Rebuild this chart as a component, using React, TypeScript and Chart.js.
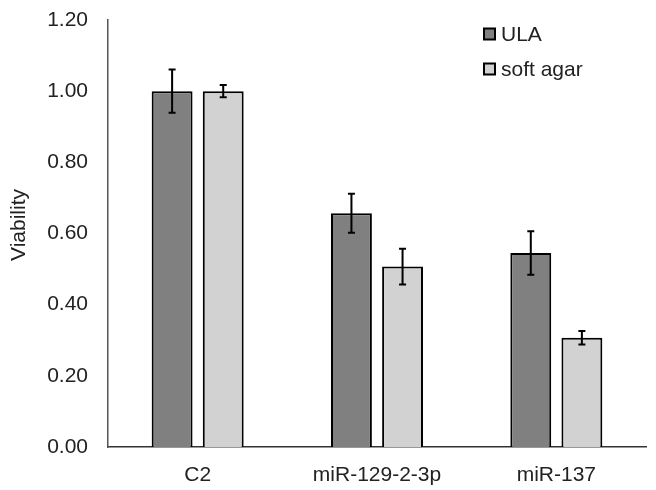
import React, { useEffect, useRef } from "react";
import { Chart, registerables } from "chart.js";

Chart.register(...registerables);

const categories = ["C2", "miR-129-2-3p", "miR-137"];
const seriesNames = ["ULA", "soft agar"];
const ulaValues = [1.0, 0.657, 0.545];
const ulaErrors = [0.061, 0.055, 0.061];
const agarValues = [1.0, 0.507, 0.307];
const agarErrors = [0.017, 0.05, 0.019];
const yTicks = [0, 0.2, 0.4, 0.6, 0.8, 1.0, 1.2];
const yTitle = "Viability";

const ulaColor = "#808080";
const agarColor = "#d2d2d2";
const textColor = "#222222";
const fontFamily = "'Liberation Sans', Arial, sans-serif";
const fontSize = 21;

const errorBarPlugin = {
  id: "errorBars",
  afterDatasetsDraw(chart: any) {
    const ctx = chart.ctx;
    const yScale = chart.scales.y;
    chart.data.datasets.forEach((ds: any, di: number) => {
      const meta = chart.getDatasetMeta(di);
      const errs: number[] = ds.errors || [];
      meta.data.forEach((el: any, i: number) => {
        const v = ds.data[i];
        const e = errs[i];
        if (e == null) return;
        const x = el.x;
        const yTop = yScale.getPixelForValue(v + e);
        const yBot = yScale.getPixelForValue(v - e);
        ctx.save();
        ctx.strokeStyle = "#000";
        ctx.lineWidth = 2;
        ctx.beginPath();
        ctx.moveTo(x, yTop);
        ctx.lineTo(x, yBot);
        ctx.moveTo(x - 3.5, yTop);
        ctx.lineTo(x + 3.5, yTop);
        ctx.moveTo(x - 3.5, yBot);
        ctx.lineTo(x + 3.5, yBot);
        ctx.stroke();
        ctx.restore();
      });
    });
  },
};

const legendPlugin = {
  id: "customLegend",
  afterDraw(chart: any) {
    const ctx = chart.ctx;
    const items = chart.data.datasets.map((ds: any) => ({
      label: ds.label,
      color: ds.backgroundColor,
    }));
    const x0 = 484;
    const y0 = 34;
    const rowGap = 35;
    ctx.save();
    ctx.font = `${fontSize}px ${fontFamily}`;
    ctx.textBaseline = "middle";
    items.forEach((it: any, i: number) => {
      const cy = y0 + i * rowGap;
      ctx.fillStyle = it.color;
      ctx.fillRect(x0, cy - 5.5, 11, 11);
      ctx.strokeStyle = "#000";
      ctx.lineWidth = 2;
      ctx.strokeRect(x0, cy - 5.5, 11, 11);
      ctx.fillStyle = textColor;
      ctx.fillText(it.label, x0 + 17, cy + 1);
    });
    ctx.restore();
  },
};

const yTitlePlugin = {
  id: "yTitle",
  afterDraw(chart: any) {
    const ctx = chart.ctx;
    ctx.save();
    ctx.translate(19, 225);
    ctx.rotate(-Math.PI / 2);
    ctx.font = `${fontSize}px ${fontFamily}`;
    ctx.fillStyle = textColor;
    ctx.textAlign = "center";
    ctx.textBaseline = "middle";
    ctx.fillText(yTitle, 0, 0);
    ctx.restore();
  },
};

export default function App() {
  const canvasRef = useRef<HTMLCanvasElement | null>(null);

  useEffect(() => {
    if (!canvasRef.current) return;
    const chart = new Chart(canvasRef.current, {
      type: "bar",
      data: {
        labels: categories,
        datasets: [
          {
            label: seriesNames[0],
            data: ulaValues,
            errors: ulaErrors,
            backgroundColor: ulaColor,
            borderColor: "#000",
            borderWidth: 2,
          } as any,
          {
            label: seriesNames[1],
            data: agarValues,
            errors: agarErrors,
            backgroundColor: agarColor,
            borderColor: "#000",
            borderWidth: 2,
          } as any,
        ],
      },
      options: {
        animation: false,
        responsive: false,
        maintainAspectRatio: false,
        layout: { padding: { top: 20, right: 10, left: 0, bottom: 0 } },
        datasets: {
          bar: { categoryPercentage: 0.57, barPercentage: 0.8 },
        },
        plugins: {
          legend: { display: false },
          tooltip: { enabled: false },
        },
        scales: {
          x: {
            grid: { display: false, drawTicks: false },
            border: { display: true, color: "#333", width: 1.5 },
            ticks: {
              color: textColor,
              font: { size: fontSize, family: fontFamily },
              padding: 16,
            },
            afterFit(scale: any) {
              scale.height = 43;
              scale.paddingLeft = 0;
              scale.paddingRight = 0;
            },
          },
          y: {
            min: 0,
            max: 1.2,
            afterBuildTicks(scale: any) {
              scale.ticks = yTicks.map((v) => ({ value: v }));
            },
            grid: { display: false, drawTicks: false },
            border: { display: true, color: "#555", width: 1.5 },
            ticks: {
              color: textColor,
              font: { size: fontSize, family: fontFamily },
              padding: 20,
              callback: (v: any) => Number(v).toFixed(2),
            },
            afterFit(scale: any) {
              scale.width = 108;
              scale.paddingTop = 0;
              scale.paddingBottom = 0;
            },
          },
        },
      },
      plugins: [errorBarPlugin, legendPlugin, yTitlePlugin],
    } as any);
    return () => chart.destroy();
  }, []);

  return (
    <div style={{ position: "fixed", left: 0, top: 0, width: 656, height: 490, background: "#fff" }}>
      <canvas ref={canvasRef} width={656} height={490} style={{ width: 656, height: 490 }} />
    </div>
  );
}
